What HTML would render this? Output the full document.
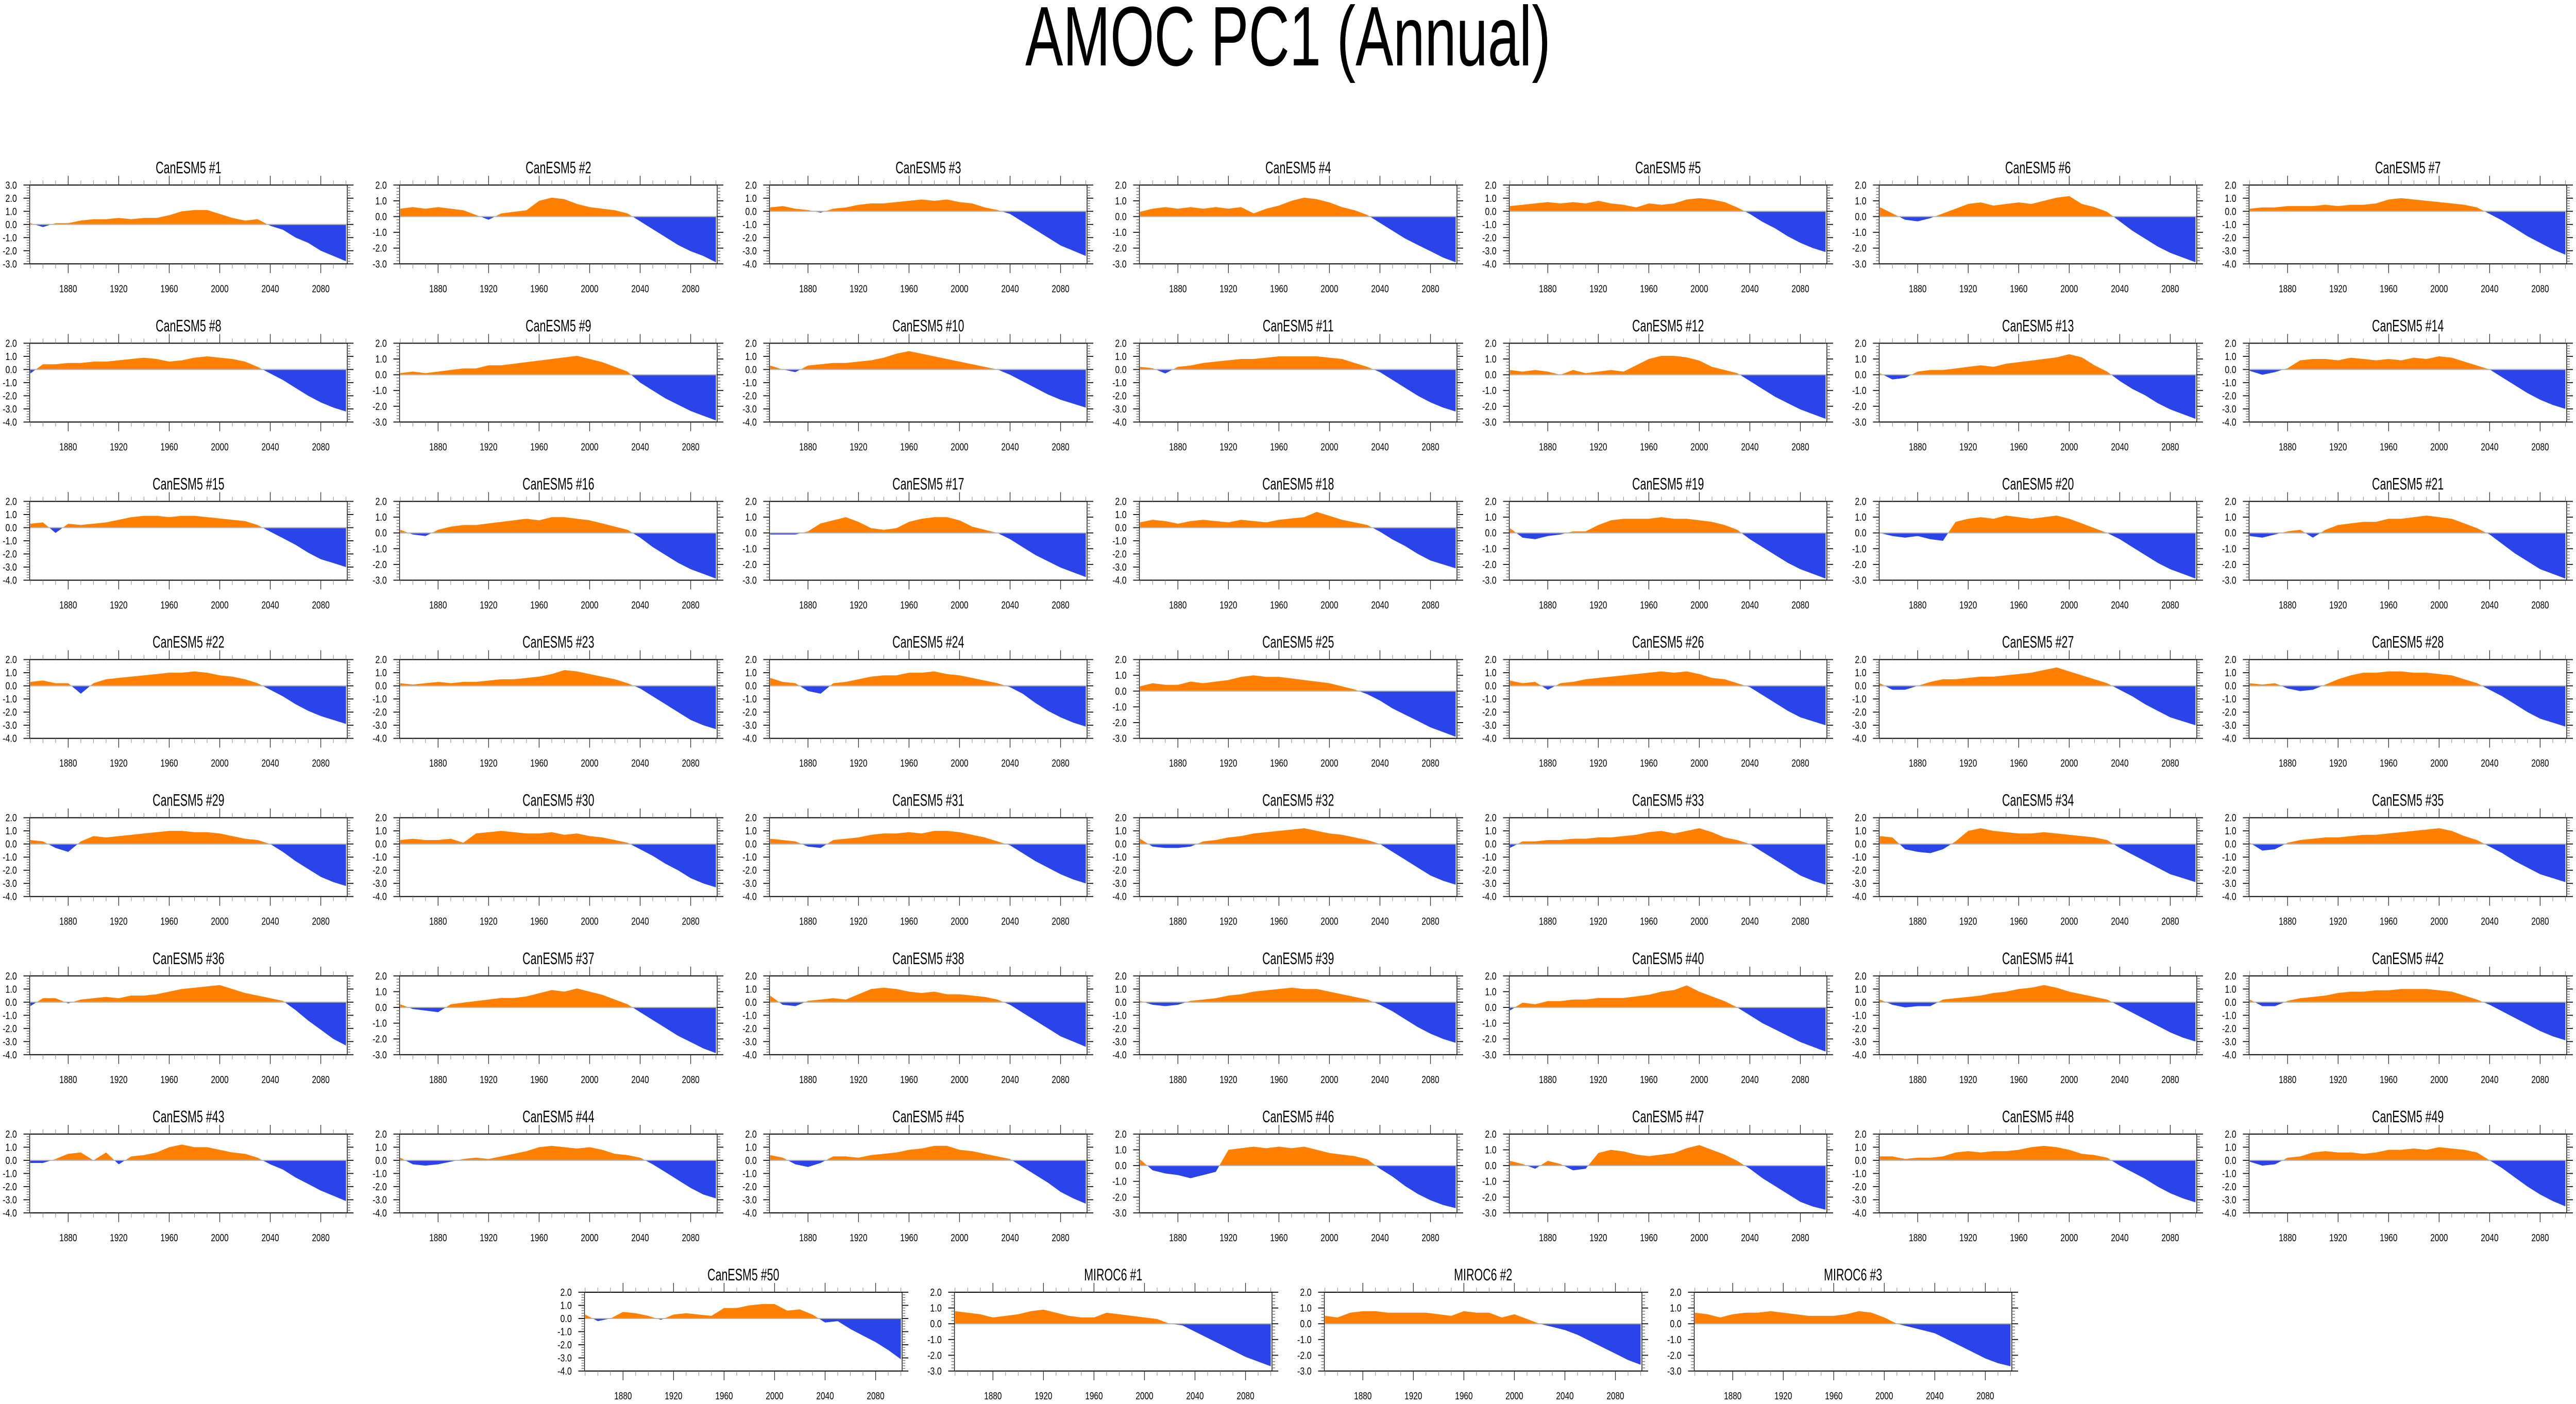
<!DOCTYPE html>
<html>
<head>
<meta charset="utf-8">
<style>
  html,body{margin:0;padding:0;background:#fff;overflow:hidden;width:100%;height:100%;}
  svg{display:block;position:absolute;left:0;top:0;width:100vw;height:100vh;}
  text{font-family:"Liberation Sans",Arial,sans-serif;fill:#000;}
</style>
</head>
<body>
<svg id="chart" width="100%" height="100%" viewBox="0 0 7462 2726" preserveAspectRatio="none" xmlns="http://www.w3.org/2000/svg">
  <rect x="0" y="0" width="7462" height="2726" fill="#fff"/>
  <text x="3731" y="127" font-size="164" text-anchor="middle">AMOC PC1 (Annual)</text>
  <g id="panels"></g>
</svg>
<script>
// ---------- data ----------
const decades = [1850,1860,1870,1880,1890,1900,1910,1920,1930,1940,1950,1960,1970,1980,1990,2000,2010,2020,2030,2040,2050,2060,2070,2080,2090,2100];
const xTickMajor = [1880,1920,1960,2000,2040,2080];
const panelTitles = [];
for (let i = 1; i <= 50; i++) panelTitles.push('CanESM5 #' + i);
panelTitles.push('MIROC6 #1','MIROC6 #2','MIROC6 #3');
const yMax = [3,2,2,2,2,2,2, 2,2,2,2,2,2,2, 2,2,2,2,2,2,2, 2,2,2,2,2,2,2, 2,2,2,2,2,2,2, 2,2,2,2,2,2,2, 2,2,2,2,2,2,2, 2,2,2,2];
const yMin = [-3,-3,-4,-3,-4,-3,-4, -4,-3,-4,-4,-3,-3,-4, -4,-3,-3,-4,-3,-3,-3, -4,-4,-4,-3,-4,-4,-4, -4,-4,-4,-4,-4,-4,-4, -4,-3,-4,-4,-3,-4,-4, -4,-4,-4,-3,-3,-4,-4, -4,-3,-3,-3];

const s01=[.1,-.2,.1,.1,.3,.4,.4,.5,.4,.5,.5,.7,1.0,1.1,1.1,.8,.5,.3,.4,-.1,-.4,-1.0,-1.4,-2.0,-2.4,-2.8];
const s02=[.5,.6,.5,.6,.5,.4,.1,-.2,.2,.3,.4,1.0,1.2,1.1,.8,.6,.5,.4,.2,-.3,-.8,-1.3,-1.8,-2.2,-2.5,-2.9];
const s03=[.3,.4,.2,.1,-.1,.2,.3,.5,.6,.6,.7,.8,.9,.8,.9,.7,.6,.3,.1,-.2,-.8,-1.4,-2.0,-2.6,-3.0,-3.4];
const s04=[.3,.5,.6,.5,.6,.5,.6,.5,.6,.2,.5,.7,1.0,1.2,1.1,.9,.6,.4,.1,-.4,-.9,-1.4,-1.8,-2.2,-2.6,-2.9];
const s05=[.4,.5,.6,.7,.6,.7,.6,.8,.6,.5,.3,.6,.5,.6,.9,1.0,.9,.7,.3,-.2,-.8,-1.3,-1.9,-2.4,-2.8,-3.1];
const s06=[.6,.2,-.2,-.3,-.1,.2,.5,.8,.9,.7,.8,.9,.8,1.0,1.2,1.3,.8,.6,.3,-.3,-.9,-1.4,-1.9,-2.3,-2.6,-2.9];
const s07=[.2,.3,.3,.4,.4,.4,.5,.4,.5,.5,.6,.9,1.0,.9,.8,.7,.6,.5,.3,-.2,-.7,-1.3,-1.9,-2.4,-2.9,-3.3];
const s08=[-.3,.4,.4,.5,.5,.6,.6,.7,.8,.9,.8,.6,.7,.9,1.0,.9,.8,.6,.2,-.3,-.8,-1.4,-2.0,-2.5,-2.9,-3.2];
const s09=[.1,.2,.1,.2,.3,.4,.4,.6,.6,.7,.8,.9,1.0,1.1,1.2,1.0,.8,.5,.2,-.5,-1.0,-1.5,-1.9,-2.3,-2.6,-2.9];
const s10=[.3,.0,-.2,.3,.4,.5,.5,.6,.7,.9,1.2,1.4,1.2,1.0,.8,.6,.4,.2,.0,-.4,-.9,-1.4,-1.9,-2.3,-2.6,-2.9];
const s11=[.2,.1,-.3,.2,.3,.5,.6,.7,.8,.8,.9,1.0,1.0,1.0,1.0,.9,.8,.5,.2,-.2,-.8,-1.4,-2.0,-2.5,-2.9,-3.2];
const s12=[.3,.2,.3,.2,.0,.3,.1,.2,.3,.2,.6,1.0,1.2,1.2,1.1,.9,.5,.3,.1,-.4,-.9,-1.4,-1.8,-2.2,-2.5,-2.8];
const s13=[.1,-.3,-.2,.2,.3,.3,.4,.5,.6,.5,.7,.8,.9,1.0,1.1,1.3,1.1,.6,.2,-.4,-.9,-1.3,-1.8,-2.2,-2.5,-2.8];
const s14=[-.1,-.4,-.2,.1,.7,.8,.8,.7,.9,.8,.7,.8,.7,.9,.8,1.0,.9,.6,.3,.0,-.6,-1.2,-1.8,-2.3,-2.7,-3.0];
const s15=[.3,.4,-.4,.3,.2,.3,.4,.6,.8,.9,.9,.8,.9,.9,.8,.7,.6,.5,.2,-.3,-.8,-1.3,-1.9,-2.4,-2.7,-3.0];
const s16=[.2,-.1,-.2,.2,.4,.5,.5,.6,.7,.8,.9,.8,1.0,1.0,.9,.8,.6,.4,.2,-.3,-.9,-1.4,-1.9,-2.3,-2.6,-2.9];
const s17=[-.1,-.1,-.1,.1,.6,.8,1.0,.7,.3,.2,.3,.7,.9,1.0,1.0,.8,.4,.2,.0,-.4,-.9,-1.4,-1.8,-2.2,-2.5,-2.8];
const s18=[.4,.6,.5,.3,.5,.6,.5,.4,.6,.5,.4,.6,.7,.8,1.2,.9,.6,.4,.2,-.3,-.9,-1.4,-2.0,-2.5,-2.8,-3.1];
const s19=[.3,-.3,-.4,-.2,-.1,.1,.1,.5,.8,.9,.9,.9,1.0,.9,.9,.8,.7,.5,.2,-.4,-.9,-1.4,-1.9,-2.3,-2.6,-2.9];
const s20=[.0,-.2,-.3,-.2,-.4,-.5,.7,.9,1.0,.9,1.1,1.0,.9,1.0,1.1,.9,.6,.3,.0,-.4,-.9,-1.4,-1.9,-2.3,-2.6,-2.9];
const s21=[-.2,-.3,-.1,.1,.2,-.3,.2,.5,.6,.7,.7,.9,.9,1.0,1.1,1.0,.9,.6,.3,-.1,-.7,-1.3,-1.8,-2.3,-2.6,-2.9];
const s22=[.3,.4,.2,.2,-.6,.2,.5,.6,.7,.8,.9,1.0,1.0,1.1,1.0,.8,.7,.5,.2,-.3,-.8,-1.4,-1.9,-2.3,-2.6,-2.9];
const s23=[.2,.1,.2,.3,.2,.3,.3,.4,.5,.5,.6,.7,.9,1.2,1.1,.9,.7,.5,.2,-.2,-.8,-1.4,-2.0,-2.6,-3.0,-3.3];
const s24=[.6,.3,.2,-.4,-.6,.2,.3,.5,.7,.8,.8,1.0,1.0,1.1,.9,.8,.6,.4,.2,-.1,-.6,-1.3,-1.9,-2.4,-2.8,-3.1];
const s25=[.3,.5,.4,.4,.6,.5,.6,.7,.9,1.0,.9,.9,.8,.7,.6,.5,.3,.1,-.2,-.6,-1.1,-1.5,-1.9,-2.3,-2.6,-2.9];
const s26=[.4,.2,.3,-.3,.2,.3,.5,.6,.7,.8,.9,1.0,1.1,1.0,1.1,.9,.6,.5,.2,-.1,-.7,-1.3,-1.9,-2.4,-2.7,-3.0];
const s27=[.2,-.3,-.3,.0,.3,.5,.5,.6,.7,.7,.8,.9,1.0,1.2,1.4,1.1,.8,.5,.2,-.3,-.8,-1.4,-1.9,-2.4,-2.7,-3.0];
const s28=[.2,.1,.2,-.2,-.4,-.3,.1,.5,.8,1.0,1.0,1.1,1.1,1.0,1.0,.9,.8,.5,.2,-.3,-.8,-1.4,-2.0,-2.5,-2.8,-3.1];
const s29=[.3,.2,-.3,-.6,.2,.6,.5,.6,.7,.8,.9,1.0,1.0,.9,.9,.8,.6,.4,.3,.0,-.6,-1.3,-1.9,-2.5,-2.9,-3.2];
const s30=[.3,.4,.3,.3,.4,.1,.8,.9,1.0,.9,.8,.8,.9,.7,.8,.6,.5,.3,.1,-.4,-.9,-1.5,-2.0,-2.6,-3.0,-3.3];
const s31=[.4,.3,.2,-.2,-.3,.3,.4,.5,.7,.8,.8,.9,.8,1.0,1.0,.9,.7,.5,.2,-.1,-.7,-1.3,-1.8,-2.3,-2.7,-3.0];
const s32=[.4,-.2,-.3,-.3,-.2,.2,.3,.5,.6,.8,.9,1.0,1.1,1.2,1.0,.8,.7,.5,.3,.0,-.6,-1.2,-1.8,-2.4,-2.8,-3.1];
const s33=[-.3,.2,.2,.3,.3,.4,.4,.5,.5,.6,.7,.9,1.0,.8,1.0,1.2,.9,.5,.3,.0,-.6,-1.2,-1.8,-2.4,-2.8,-3.1];
const s34=[.6,.5,-.4,-.6,-.7,-.4,.2,1.0,1.2,1.0,.9,.8,.8,.9,.8,.7,.6,.5,.3,-.3,-.8,-1.3,-1.8,-2.3,-2.6,-2.9];
const s35=[.1,-.5,-.4,.1,.3,.4,.5,.5,.6,.7,.7,.8,.9,1.0,1.1,1.2,1.0,.6,.3,-.2,-.7,-1.3,-1.8,-2.3,-2.6,-2.9];
const s36=[-.3,.3,.3,-.1,.2,.3,.4,.3,.5,.5,.6,.8,1.0,1.1,1.2,1.3,1.0,.7,.5,.3,.1,-.6,-1.4,-2.1,-2.8,-3.3];
const s37=[.2,-.1,-.2,-.3,.2,.3,.4,.5,.6,.6,.7,.9,1.1,1.0,1.2,1.0,.8,.5,.2,-.3,-.8,-1.3,-1.8,-2.2,-2.6,-2.9];
const s38=[.5,-.2,-.3,.1,.2,.3,.2,.6,1.0,1.1,1.0,.8,.7,.8,.6,.6,.5,.4,.2,-.2,-.8,-1.4,-2.0,-2.6,-3.0,-3.4];
const s39=[.1,-.2,-.3,-.2,.1,.2,.3,.5,.6,.8,.9,1.0,1.1,1.0,1.0,.8,.6,.4,.2,-.2,-.7,-1.3,-1.9,-2.4,-2.8,-3.1];
const s40=[-.2,.3,.2,.4,.4,.5,.5,.6,.6,.6,.7,.8,1.0,1.1,1.4,1.0,.7,.4,.0,-.5,-1.0,-1.4,-1.8,-2.2,-2.5,-2.8];
const s41=[.2,-.2,-.4,-.3,-.3,.2,.3,.4,.5,.7,.8,1.0,1.1,1.3,1.1,.8,.6,.4,.2,-.3,-.8,-1.3,-1.8,-2.3,-2.7,-3.0];
const s42=[.2,-.3,-.3,.1,.3,.4,.5,.7,.8,.8,.9,.9,1.0,1.0,1.0,.9,.8,.5,.2,-.2,-.7,-1.2,-1.7,-2.2,-2.6,-2.9];
const s43=[-.2,-.2,.1,.5,.6,.0,.6,-.3,.3,.4,.6,1.0,1.2,1.0,1.0,.8,.6,.5,.2,-.3,-.7,-1.3,-1.8,-2.3,-2.7,-3.1];
const s44=[.2,-.3,-.4,-.3,-.1,.1,.2,.1,.3,.5,.7,1.0,1.1,1.0,.9,1.0,.8,.5,.4,.2,-.3,-.9,-1.5,-2.1,-2.6,-2.9];
const s45=[.4,.2,-.3,-.5,-.2,.3,.3,.2,.4,.5,.6,.8,.9,1.1,1.1,.8,.7,.5,.3,.1,-.5,-1.1,-1.7,-2.4,-2.9,-3.3];
const s46=[.4,-.3,-.5,-.6,-.8,-.6,-.4,1.0,1.1,1.2,1.1,1.2,1.1,1.2,1.0,.8,.7,.6,.4,-.2,-.7,-1.3,-1.8,-2.2,-2.5,-2.7];
const s47=[.3,.1,-.2,.3,.1,-.3,-.2,.8,1.0,.9,.7,.6,.7,.8,1.1,1.3,1.0,.7,.3,-.2,-.8,-1.3,-1.8,-2.3,-2.6,-2.8];
const s48=[.3,.3,.1,.2,.2,.3,.6,.7,.6,.7,.7,.8,1.0,1.1,1.0,.8,.5,.4,.2,-.4,-.9,-1.4,-2.0,-2.5,-2.9,-3.2];
const s49=[-.1,-.4,-.3,.2,.3,.6,.7,.6,.6,.5,.6,.8,.8,.9,.8,1.0,.9,.8,.6,.0,-.6,-1.3,-2.0,-2.6,-3.1,-3.5];
const s50=[.3,-.2,.0,.5,.4,.2,-.1,.3,.4,.3,.2,.8,.8,1.0,1.1,1.1,.6,.7,.3,-.3,-.2,-.8,-1.3,-1.8,-2.4,-3.1];
const m01=[.8,.7,.6,.4,.5,.6,.8,.9,.7,.5,.4,.4,.7,.6,.5,.4,.3,.0,-.1,-.5,-.9,-1.3,-1.7,-2.1,-2.4,-2.7];
const m02=[.5,.4,.7,.8,.8,.7,.7,.7,.7,.6,.5,.8,.7,.7,.4,.6,.3,.0,-.2,-.4,-.7,-1.1,-1.5,-1.9,-2.3,-2.6];
const m03=[.7,.6,.4,.6,.7,.7,.8,.7,.6,.5,.5,.5,.6,.8,.7,.4,.0,-.2,-.4,-.6,-1.0,-1.4,-1.8,-2.2,-2.5,-2.7];
const allSeries = [s01,s02,s03,s04,s05,s06,s07,s08,s09,s10,s11,s12,s13,s14,s15,s16,s17,s18,s19,s20,s21,s22,s23,s24,s25,s26,s27,s28,s29,s30,s31,s32,s33,s34,s35,s36,s37,s38,s39,s40,s41,s42,s43,s44,s45,s46,s47,s48,s49,s50,m01,m02,m03];

// ---------- layout ----------
const NS = 'http://www.w3.org/2000/svg';
const PW = 920, PH = 153, COLP = 1071.5, ROWP = 307.1, LEFT0 = 86, TOP0 = 359.3;
const X0 = 1849.5, X1 = 2101;
const ORANGE = '#ff8000', BLUE = '#2b44ea';
const root = document.getElementById('panels');

function mk(tag, attrs, parent) {
  const e = document.createElementNS(NS, tag);
  for (const k in attrs) e.setAttribute(k, attrs[k]);
  parent.appendChild(e);
  return e;
}

allSeries.forEach((vals, i) => {
  let left, top;
  if (i < 49) { left = LEFT0 + (i % 7) * COLP; top = TOP0 + Math.floor(i / 7) * ROWP; }
  else { left = LEFT0 + (1.5 + (i - 49)) * COLP; top = TOP0 + 7 * ROWP; }
  const ymax = yMax[i], ymin = yMin[i];
  const xs = yr => left + (yr - X0) / (X1 - X0) * PW;
  const ys = v => top + (ymax - v) / (ymax - ymin) * PH;

  const g = mk('g', {}, root);
  
  

  const t = mk('text', {x: left + PW / 2, y: top - 23, 'font-size': 32, 'text-anchor': 'middle'}, g);
  
  
  t.textContent = panelTitles[i];

  const cpA = 'ca' + i, cpB = 'cb' + i;
  const c1 = mk('clipPath', {id: cpA}, g);
  mk('rect', {x: left, y: top, width: PW, height: ys(0) - top}, c1);
  const c2 = mk('clipPath', {id: cpB}, g);
  mk('rect', {x: left, y: ys(0), width: PW, height: top + PH - ys(0)}, c2);

  let d = 'M' + xs(decades[0]) + ',' + ys(0);
  decades.forEach((yr, k) => { d += ' L' + xs(yr).toFixed(1) + ',' + ys(vals[k]).toFixed(1); });
  d += ' L' + xs(decades[decades.length - 1]) + ',' + ys(0) + ' Z';
  const pa = mk('path', {d: d, fill: ORANGE, 'clip-path': 'url(#' + cpA + ')'}, g);
  
  
  const pb = mk('path', {d: d, fill: BLUE, 'clip-path': 'url(#' + cpB + ')'}, g);
  
  

  const zl = mk('line', {x1: left, x2: left + PW, y1: ys(0), y2: ys(0), stroke: '#b4b4b4', 'stroke-width': 2}, g);
  
  

  const fr = mk('rect', {x: left, y: top, width: PW, height: PH, fill: 'none', stroke: '#000', 'stroke-width': 2}, g);
  
  

  const xt = mk('g', {}, g);
  
  
  for (let yr = 1850; yr <= 2100; yr += 10) {
    const major = xTickMajor.indexOf(yr) >= 0;
    const L = major ? 18 : 9;
    const col = major ? '#333' : '#888';
    const w = major ? 2 : 1.5;
    const x = xs(yr);
    mk('line', {x1: x, x2: x, y1: top, y2: top - L, stroke: col, 'stroke-width': w}, xt);
    mk('line', {x1: x, x2: x, y1: top + PH, y2: top + PH + L, stroke: col, 'stroke-width': w}, xt);
  }
  xTickMajor.forEach(yr => {
    const tx = mk('text', {'font-size': 20, 'text-anchor': 'middle', transform: 'translate(' + xs(yr).toFixed(1) + ',' + (top + PH + 55) + ') scale(1.15,1)'}, xt);
    
    
    tx.textContent = String(yr);
  });

  const yt = mk('g', {}, g);
  
  
  for (let v = ymin; v <= ymax + 1e-6; v += 0.2) {
    const vr = Math.round(v * 10) / 10;
    const major = Math.abs(vr - Math.round(vr)) < 1e-6;
    const L = major ? 18 : 9;
    const col = major ? '#222' : '#777';
    const w = major ? 2 : 1.5;
    const y = ys(vr);
    mk('line', {x1: left, x2: left - L, y1: y, y2: y, stroke: col, 'stroke-width': w}, yt);
    mk('line', {x1: left + PW, x2: left + PW + L, y1: y, y2: y, stroke: col, 'stroke-width': w}, yt);
    if (major) {
      const ty = mk('text', {'font-size': 20, 'text-anchor': 'end', transform: 'translate(' + (left - 37) + ',' + (y + 7).toFixed(1) + ') scale(1.2,1)'}, yt);
      
      
      ty.textContent = vr.toFixed(1);
    }
  }
});
</script>
</body>
</html>
